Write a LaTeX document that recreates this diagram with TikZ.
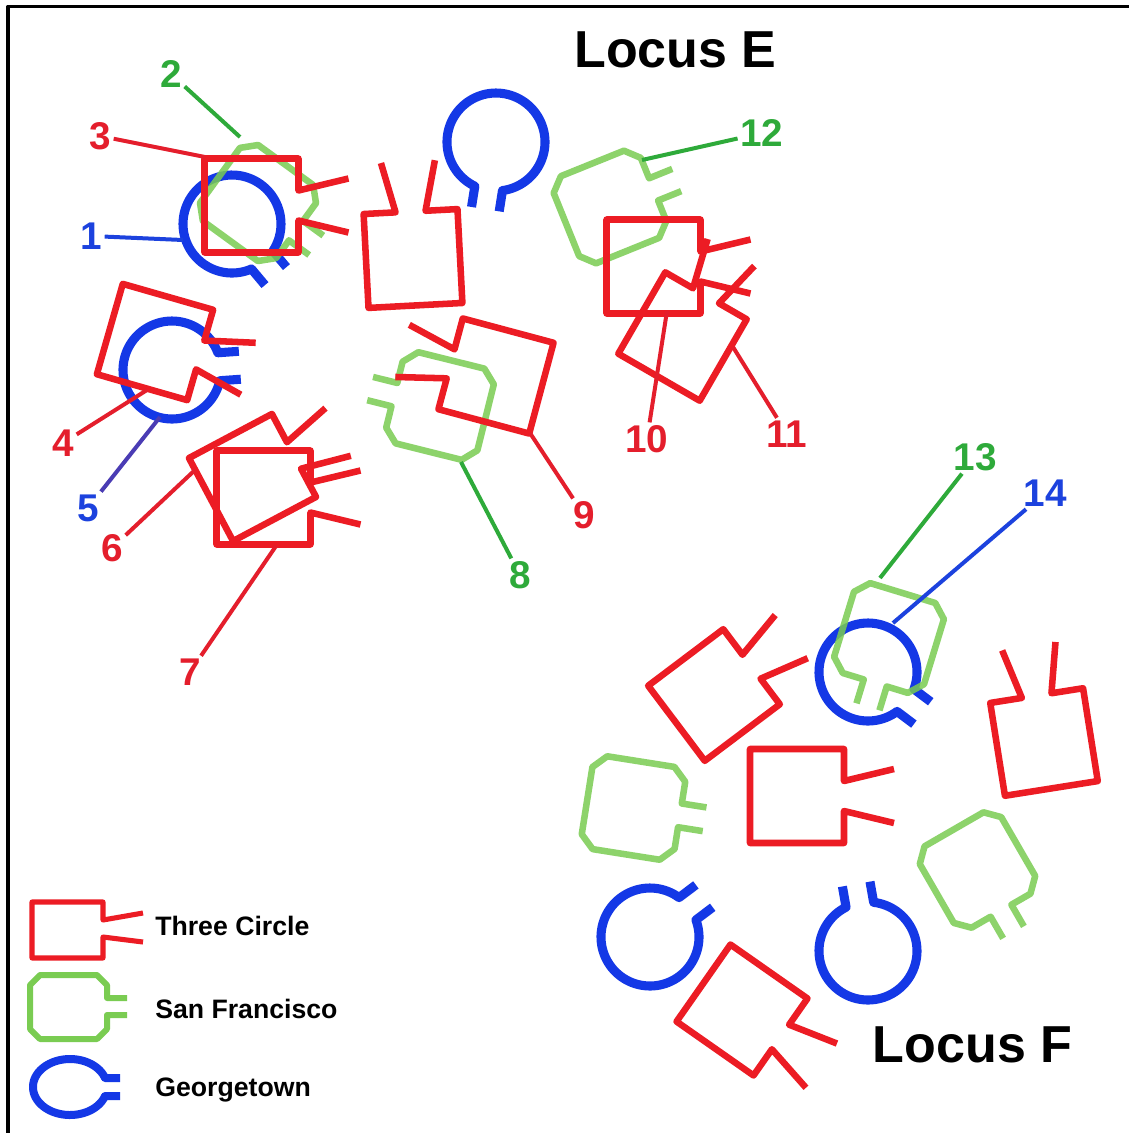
\documentclass[tikz,border=0pt]{standalone}
\usepackage{fontspec}
\setmainfont{Liberation Sans}
\definecolor{tcred}{RGB}{236,28,36}
\definecolor{sfgreen}{RGB}{122,204,82}
\definecolor{gtblue}{RGB}{20,56,230}
\definecolor{numred}{RGB}{228,30,44}
\definecolor{numgreen}{RGB}{46,170,58}
\definecolor{numblue}{RGB}{28,66,222}
\definecolor{numviolet}{RGB}{74,60,180}
\begin{document}
\begin{tikzpicture}[x=0.75pt,y=-0.75pt,line join=round,
  tcline/.style={draw=tcred,line width=4.9pt},
  sfline/.style={draw=sfgreen,line width=4.9pt,draw opacity=0.85},
  gtline/.style={draw=gtblue,line width=6.8pt},
  % Three Circle: square with two splayed prongs on the +x side
  tc/.pic={\draw[tcline] (97,-27) -- (47,-15) -- (47,-47) -- (-47,-47) -- (-47,47) -- (47,47) -- (47,15) -- (97,27);},
  % San Francisco: chamfered square with two parallel prongs
  sf/.pic={\draw[sfline] (72,-12) -- (47,-12) -- (47,-34) -- (34,-47) -- (-34,-47) -- (-47,-34) -- (-47,34) -- (-34,47) -- (34,47) -- (47,34) -- (47,12) -- (72,12);},
  % Georgetown: open ring with two short stubs
  gt/.pic={\draw[gtline] (68,14) -- (47,14) -- plot[domain=16.6:343.4,samples=90] ({49*cos(\x)},{49*sin(\x)}) -- (47,-14) -- (68,-14);},
  num/.style={font=\bfseries\fontsize{29}{29}\selectfont,inner sep=2pt},
  locus/.style={font=\bfseries\fontsize{39}{39}\selectfont,inner sep=0pt},
  legtext/.style={font=\bfseries\fontsize{20}{20}\selectfont,inner sep=0pt,anchor=base west},
  lead/.style={line width=3pt},
]
\useasboundingbox (0,0) rectangle (1129,1133);
\fill[white] (0,0) rectangle (1129,1133);
\draw[line width=2.3pt] (8,1133) -- (8,6.5) -- (1129,6.5);

% ---------- Georgetown rings ----------
\pic (b1)   [rotate=-50]  at (232,224) {gt};
\pic (btop) [rotate=-99]  at (496,142) {gt};
\pic (b5)   [rotate=4]    at (172,370) {gt};
\pic (b14)  [rotate=-37]  at (868,672) {gt};
\pic (bf1)  [rotate=37]   at (650,937) {gt};
\pic (bf2)  [rotate=100]  at (868,951) {gt};

% ---------- San Francisco squares ----------
\pic (g2)   [rotate=-36]  at (258,203) {sf};
\pic (g8)   [rotate=166]  at (440,406) {sf};
\pic (g12)  [rotate=22]   at (610,207) {sf};
\pic (g13)  [rotate=-107] at (889,638) {sf};
\pic (gf1)  [rotate=-9]   at (633.5,808) {sf};
\pic (gf2)  [rotate=-60]  at (977.5,870) {sf};

% ---------- Three Circle squares ----------
\pic (r3)   at (251.5,205.5) {tc};
\pic (rtop) [rotate=93]   at (413,258.5) {tc};
\pic (r4)   [rotate=-16]  at (155,342) {tc};
\pic (r6)   [rotate=28]   at (252.5,477.5) {tc};
\pic (r7)   at (263.5,497.5) {tc};
\pic (r9)   [rotate=165]  at (496,376) {tc};
\pic (r10)  at (653.5,266.5) {tc};
\pic (r11)  [rotate=60]   at (682.5,336.5) {tc};
\pic (rf1)  [rotate=37]   at (714,695) {tc};
\pic (rf2)  at (797,796) {tc};
\pic (rf3)  [rotate=99]   at (1044,742) {tc};
\pic (rf4)  [rotate=-35]  at (742,1010) {tc};

% ---------- numbered labels ----------
\node[num,text=numblue]  (n1)  at (91,236)  {1};
\node[num,text=numgreen] (n2)  at (171,74)  {2};
\node[num,text=numred]   (n3)  at (100,136) {3};
\node[num,text=numred]   (n4)  at (63,443)  {4};
\node[num,text=numblue]  (n5)  at (88,508)  {5};
\node[num,text=numred]   (n6)  at (112,548) {6};
\node[num,text=numred]   (n7)  at (190,672) {7};
\node[num,text=numgreen] (n8)  at (520,575) {8};
\node[num,text=numred]   (n9)  at (584,515) {9};
\node[num,text=numred]   (n10) at (647,439) {10};
\node[num,text=numred]   (n11) at (787,434) {11};
\node[num,text=numgreen] (n12) at (762,133) {12};
\node[num,text=numgreen] (n13) at (975,457) {13};
\node[num,text=numblue]  (n14) at (1045,493) {14};

\coordinate (t1)  at (183,240);
\coordinate (t2)  at (240,137);
\coordinate (t3)  at (205,157);
\coordinate (t4)  at (147,390);
\coordinate (t5)  at (160,417);
\coordinate (t6)  at (195,470);
\coordinate (t7)  at (276,546);
\coordinate (t8)  at (461,462);
\coordinate (t9)  at (530,433);
\coordinate (t10) at (667,311);
\coordinate (t11) at (733,347);
\coordinate (t12) at (642,160);
\coordinate (t13) at (880,578);
\coordinate (t14) at (893,623);

\draw[lead,numblue]   (n1)  -- (t1);
\draw[lead,numgreen]  (n2)  -- (t2);
\draw[lead,numred]    (n3)  -- (t3);
\draw[lead,numred]    (n4)  -- (t4);
\draw[lead,numviolet] (n5)  -- (t5);
\draw[lead,numred]    (n6)  -- (t6);
\draw[lead,numred]    (n7)  -- (t7);
\draw[lead,numgreen]  (n8)  -- (t8);
\draw[lead,numred]    (n9)  -- (t9);
\draw[lead,numred]    (n10) -- (t10);
\draw[lead,numred]    (n11) -- (t11);
\draw[lead,numgreen]  (n12) -- (t12);
\draw[lead,numgreen]  (n13) -- (t13);
\draw[lead,numblue]   (n14) -- (t14);

% ---------- locus titles ----------
\node[locus] (locE) at (675.5,50) {Locus E};
\node[locus] (locF) at (972.5,1045) {Locus F};

% ---------- legend ----------
\draw[tcred,line width=3.8pt] (143,913) -- (103,920) -- (103,902) -- (32,902) -- (32,958) -- (103,958) -- (103,937) -- (143,942);
\draw[sfgreen,line width=4.5pt] (127,998) -- (107,998) -- (107,985) -- (97,975) -- (40,975) -- (30,985) -- (30,1029) -- (40,1039) -- (97,1039) -- (107,1029) -- (107,1015) -- (127,1015);
\draw[gtblue,line width=6pt] (120,1096) -- (105,1096) -- plot[domain=18.75:341.25,samples=90] ({70+37*cos(\x)},{1087+28*sin(\x)}) -- (105,1078) -- (120,1078);
\node[legtext] (lt) at (155,935)  {Three Circle};
\node[legtext] (ls) at (155,1018) {San Francisco};
\node[legtext] (lg) at (155,1096) {Georgetown};
\end{tikzpicture}
\end{document}
